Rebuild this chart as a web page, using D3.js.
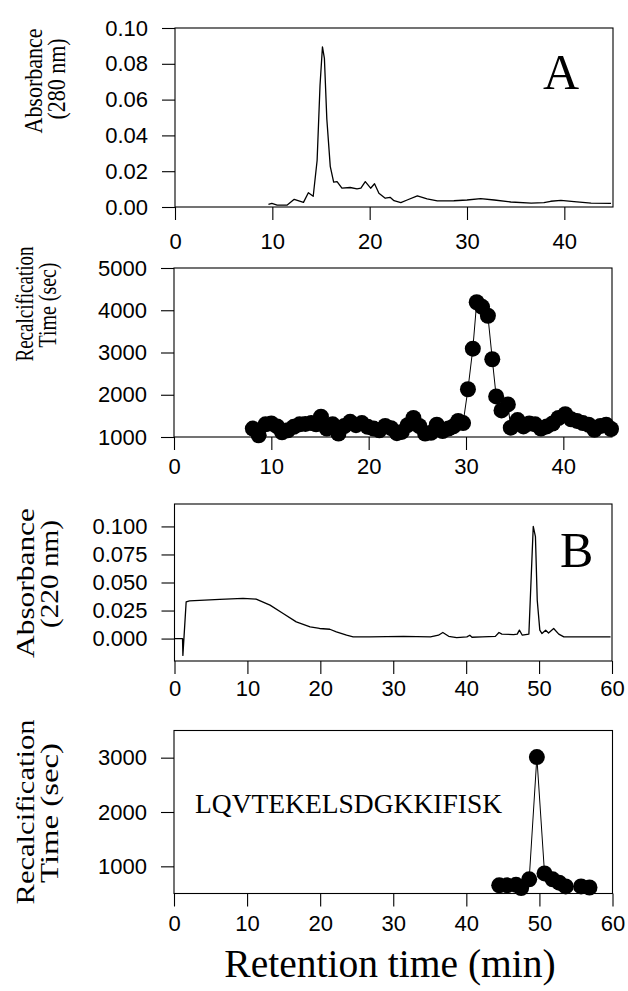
<!DOCTYPE html>
<html>
<head>
<meta charset="utf-8">
<script src="https://cdnjs.cloudflare.com/ajax/libs/d3/7.8.5/d3.min.js"></script>
<style>
body { margin: 0; background: #fff; }
</style>
</head>
<body>
<div id="chart-area"></div>
<script>
// Panel A, absorbance at 280 nm
var absA_time = [9.6, 9.95, 10.5, 11.5, 12.25, 13.2, 13.7, 14.2, 14.6, 14.9, 15.15, 15.35, 15.6, 15.95, 16.3, 16.65, 17.15, 18.0, 18.7, 19.1, 19.55, 20.1, 20.5, 20.95, 21.6, 22.1, 22.5, 23.2, 23.85, 24.9, 25.9, 26.95, 28.65, 30.0, 31.4, 32.8, 34.5, 36.6, 37.9, 38.6, 39.65, 41.0, 42.75, 44.8];
var absA_value = [0.0015, 0.002, 0.001, 0.001, 0.0043, 0.0026, 0.008, 0.006, 0.026, 0.068, 0.0895, 0.083, 0.049, 0.0227, 0.0139, 0.0142, 0.0105, 0.0109, 0.0101, 0.0105, 0.0142, 0.0105, 0.013, 0.0077, 0.0049, 0.0054, 0.0035, 0.0024, 0.0039, 0.0062, 0.0045, 0.0034, 0.0035, 0.0039, 0.0047, 0.0039, 0.0028, 0.0022, 0.0024, 0.0032, 0.0037, 0.003, 0.0022, 0.002];

// Panel A, recalcification time
var recA_time = [8.1, 8.7, 9.4, 10.0, 10.6, 11.1, 11.7, 12.3, 12.9, 13.5, 14.1, 14.6, 15.1, 15.7, 16.3, 16.9, 17.5, 18.1, 18.7, 19.3, 19.9, 20.5, 21.1, 21.7, 22.3, 22.9, 23.4, 24.0, 24.6, 25.2, 25.8, 26.4, 27.0, 27.6, 28.2, 28.7, 29.2, 29.7, 30.2, 30.7, 31.1, 31.65, 32.25, 32.7, 33.1, 33.65, 34.3, 34.6, 35.3, 35.9, 36.5, 37.1, 37.7, 38.3, 38.9, 39.5, 40.2, 40.8, 41.4, 42.0, 42.6, 43.2, 43.8, 44.4, 44.9];
var recA_value = [1200, 1040, 1300, 1320, 1250, 1110, 1160, 1240, 1300, 1310, 1330, 1300, 1480, 1200, 1300, 1080, 1260, 1360, 1280, 1330, 1240, 1200, 1160, 1260, 1210, 1090, 1120, 1280, 1450, 1260, 1080, 1100, 1290, 1140, 1200, 1250, 1380, 1330, 2130, 3090, 4190, 4080, 3870, 2840, 1960, 1630, 1770, 1220, 1400, 1250, 1320, 1300, 1200, 1250, 1320, 1450, 1540, 1420, 1380, 1330, 1290, 1170, 1260, 1290, 1190];

// Panel B, absorbance at 220 nm
var absB_time = [0, 1.1, 1.15, 1.6, 2.06, 6.2, 9.4, 11.2, 13.1, 14.9, 16.7, 18.6, 19.9, 21.3, 22.2, 23.6, 24.5, 26.8, 31.4, 35.1, 36.2, 36.8, 37.6, 38.7, 40.1, 40.5, 40.8, 42.2, 44.0, 44.5, 44.9, 46.5, 47.0, 47.3, 47.7, 48.6, 48.9, 49.2, 49.5, 49.75, 50.1, 50.4, 50.9, 51.3, 52.0, 52.7, 53.4, 59.8];
var absB_value = [0.0, 0.0, -0.015, 0.0328, 0.0337, 0.0349, 0.0358, 0.0352, 0.0298, 0.0224, 0.0149, 0.0104, 0.009, 0.0083, 0.006, 0.003, 0.0015, 0.0015, 0.002, 0.0015, 0.003, 0.0054, 0.002, 0.0009, 0.0015, 0.003, 0.0012, 0.0015, 0.002, 0.0054, 0.004, 0.0036, 0.004, 0.0075, 0.003, 0.004, 0.052, 0.1, 0.091, 0.034, 0.0075, 0.0045, 0.0075, 0.005, 0.009, 0.004, 0.0015, 0.0015];

// Panel B, recalcification time
var recB_time = [44.5, 45.6, 46.8, 47.5, 48.6, 49.65, 50.7, 51.8, 52.7, 53.6, 55.7, 56.85];
var recB_value = [650, 650, 660, 600, 760, 3010, 870, 760, 700, 630, 630, 610];

// ticks
var ticksA_x = [0, 10, 20, 30, 40];
var ticksB_x = [0, 10, 20, 30, 40, 50, 60];
var ticksAbsA = [0, 0.02, 0.04, 0.06, 0.08, 0.10];
var ticksRecA = [1000, 2000, 3000, 4000, 5000];
var ticksAbsB = [0, 0.025, 0.05, 0.075, 0.10];
var ticksRecB = [1000, 2000, 3000];

var peptide = "LQVTEKELSDGKKIFISK";
var xTitle = "Retention time (min)";

var SANS = "'Liberation Sans', Arial, sans-serif";
var SERIF = "'Liberation Serif', 'Times New Roman', serif";

var svg = d3.select("#chart-area").append("svg")
    .attr("width", 628)
    .attr("height", 991);

function drawPanel(p) {
    var x = d3.scaleLinear().domain(p.xDomain).range(p.xRange);
    var y = d3.scaleLinear().domain(p.yDomain).range(p.yRange);
    var g = svg.append("g");

    // frame
    g.append("rect")
        .attr("x", p.xRange[0])
        .attr("y", p.yRange[1])
        .attr("width", p.xRange[1] - p.xRange[0])
        .attr("height", p.yRange[0] - p.yRange[1])
        .attr("fill", "none")
        .attr("stroke", "black")
        .attr("stroke-width", 1.1);

    var xAxis = d3.axisBottom(x)
        .tickValues(p.xTicks)
        .tickSize(13)
        .tickSizeOuter(0)
        .tickPadding(p.xPad)
        .tickFormat(d3.format("d"));
    var xg = g.append("g")
        .attr("transform", "translate(0," + p.yRange[0] + ")")
        .call(xAxis);

    var yAxis = d3.axisLeft(y)
        .tickValues(p.yTicks)
        .tickSize(13)
        .tickSizeOuter(0)
        .tickPadding(14)
        .tickFormat(p.yFormat);
    var yg = g.append("g")
        .attr("transform", "translate(" + p.xRange[0] + ",0)")
        .call(yAxis);

    [xg, yg].forEach(function(a) {
        a.select(".domain").remove();
        a.selectAll(".tick line").attr("stroke", "black").attr("stroke-width", 1.1);
        a.selectAll(".tick text")
            .attr("fill", "black")
            .style("font-family", SANS)
            .style("font-size", "22px");
    });

    var pts = p.time.map(function(t, i) { return [t, p.value[i]]; });
    var line = d3.line()
        .x(function(d) { return x(d[0]); })
        .y(function(d) { return y(d[1]); });

    g.append("path")
        .datum(pts)
        .attr("d", line)
        .attr("fill", "none")
        .attr("stroke", "black")
        .attr("stroke-width", p.dots ? 1 : 1.3)
        .attr("stroke-linejoin", "round");

    if (p.dots) {
        g.selectAll("circle")
            .data(pts)
            .enter().append("circle")
            .attr("cx", function(d) { return x(d[0]); })
            .attr("cy", function(d) { return y(d[1]); })
            .attr("r", 8)
            .attr("fill", "black");
    }

    // rotated y labels, two lines each
    p.labels.forEach(function(l) {
        g.append("text")
            .attr("transform", "translate(" + l.x + "," + l.y + ") rotate(-90)")
            .attr("text-anchor", "middle")
            .attr("textLength", l.len)
            .attr("lengthAdjust", "spacingAndGlyphs")
            .style("font-family", SERIF)
            .style("font-size", "26px")
            .attr("fill", "black")
            .text(l.text);
    });
    return g;
}

drawPanel({
    time: absA_time, value: absA_value, dots: false,
    xDomain: [0, 45], xRange: [175, 613],
    yDomain: [0, 0.10], yRange: [207, 28],
    xTicks: ticksA_x, yTicks: ticksAbsA, yFormat: d3.format(".2f"), xPad: 13,
    labels: [
        {text: "Absorbance", x: 42, y: 81, len: 105},
        {text: "(280 nm)", x: 65, y: 79, len: 81}
    ]
});

drawPanel({
    time: recA_time, value: recA_value, dots: true,
    xDomain: [0, 45], xRange: [174, 612],
    yDomain: [1000, 5000], yRange: [437, 268],
    xTicks: ticksA_x, yTicks: ticksRecA, yFormat: d3.format("d"), xPad: 8,
    labels: [
        {text: "Recalcification", x: 33, y: 304, len: 115},
        {text: "Time (sec)", x: 56, y: 305, len: 85}
    ]
});

drawPanel({
    time: absB_time, value: absB_value, dots: false,
    xDomain: [0, 60], xRange: [174.5, 612],
    yDomain: [-0.02, 0.12], yRange: [661, 504],
    xTicks: ticksB_x, yTicks: ticksAbsB, yFormat: d3.format(".3f"), xPad: 6,
    labels: [
        {text: "Absorbance", x: 34, y: 583, len: 150},
        {text: "(220 nm)", x: 58, y: 574, len: 108}
    ]
});

drawPanel({
    time: recB_time, value: recB_value, dots: true,
    xDomain: [0, 60], xRange: [174, 612.5],
    yDomain: [500, 3500], yRange: [893.5, 730.5],
    xTicks: ticksB_x, yTicks: ticksRecB, yFormat: d3.format("d"), xPad: 9,
    labels: [
        {text: "Recalcification", x: 34, y: 812, len: 185},
        {text: "Time (sec)", x: 58, y: 813, len: 140}
    ]
});

// panel letters and annotations
svg.append("text")
    .attr("x", 543).attr("y", 89)
    .style("font-family", SERIF).style("font-size", "50px")
    .text("A");
svg.append("text")
    .attr("x", 560).attr("y", 567)
    .style("font-family", SERIF).style("font-size", "50px")
    .text("B");
svg.append("text")
    .attr("x", 195).attr("y", 813)
    .style("font-family", SERIF).style("font-size", "27.5px")
    .text(peptide);
svg.append("text")
    .attr("x", 390).attr("y", 977)
    .attr("text-anchor", "middle")
    .style("font-family", SERIF).style("font-size", "39.5px")
    .text(xTitle);
</script>
</body>
</html>
